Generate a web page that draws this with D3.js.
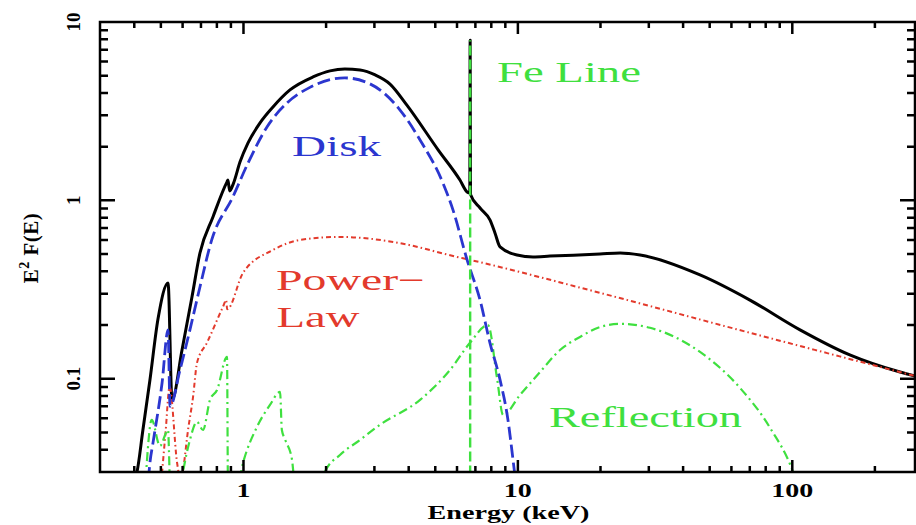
<!DOCTYPE html>
<html>
<head>
<meta charset="utf-8">
<script src="https://cdn.jsdelivr.net/npm/d3@7"></script>
<style>
  body { margin: 0; background: #fff; }
  svg { display: block; }
  .frame { fill: none; stroke: #000; stroke-width: 2.5px; }
</style>
</head>
<body>
<svg id="chart" width="916" height="525"></svg>
<script>
// Spectral components of the model: energies in keV, fluxes as E^2 F(E)
const totalE = [0.40, 0.409, 0.43, 0.456, 0.488, 0.531, 0.549, 0.597, 0.649, 0.694, 0.774, 0.871, 0.878, 0.890, 0.92, 0.971, 1.039, 1.149, 1.281, 1.477, 1.792, 2.067, 2.34, 2.66, 3.02, 3.42, 3.94, 5.12, 6.15, 6.53, 6.68, 6.70, 6.72, 7.28, 7.91, 8.25, 8.61, 9.93, 11.35, 13.09, 19.92, 23.6, 27.9, 46.1, 70.1, 106.7, 162, 247, 280];
const totalF = [0.027, 0.030, 0.0516, 0.098, 0.216, 0.344, 0.076, 0.145, 0.287, 0.507, 0.807, 1.27, 1.30, 1.13, 1.25, 1.64, 2.10, 2.72, 3.34, 4.16, 4.92, 5.32, 5.45, 5.38, 5.05, 4.49, 3.42, 1.92, 1.30, 1.115, 1.10, 7.9, 1.08, 0.906, 0.777, 0.657, 0.548, 0.494, 0.482, 0.487, 0.50, 0.507, 0.494, 0.382, 0.276, 0.188, 0.136, 0.109, 0.1036];

const diskE = [0.45, 0.456, 0.468, 0.505, 0.531, 0.540, 0.587, 0.638, 0.694, 0.766, 0.916, 1.039, 1.218, 1.441, 1.747, 2.067, 2.34, 2.89, 3.72, 4.40, 5.33, 5.80, 6.53, 7.28, 7.91, 8.61, 9.2, 9.6, 9.8];
const diskF = [0.027, 0.0337, 0.0437, 0.0947, 0.188, 0.07, 0.112, 0.188, 0.327, 0.6, 1.05, 1.62, 2.58, 3.52, 4.3, 4.75, 4.86, 4.5, 3.21, 2.18, 1.252, 0.884, 0.464, 0.276, 0.159, 0.0985, 0.0588, 0.0351, 0.027];

const powerE = [0.50, 0.52, 0.538, 0.573, 0.59, 0.602, 0.628, 0.655, 0.677, 0.736, 0.842, 0.865, 0.872, 0.996, 1.281, 1.607, 2.247, 3.51, 6.0, 6.69, 19.92, 70, 280];
const powerF = [0.025, 0.05, 0.09, 0.0337, 0.027, 0.0308, 0.0516, 0.0791, 0.1226, 0.159, 0.253, 0.276, 0.245, 0.392, 0.527, 0.60, 0.624, 0.585, 0.482, 0.464, 0.303, 0.181, 0.1036];

const reflE = [0.44, 0.463, 0.496, 0.531, 0.541, 0.59, 0.602, 0.638, 0.677, 0.712, 0.755, 0.801, 0.871, 0.878, 0.95, 0.996, 1.12, 1.249, 1.359, 1.38, 1.42, 1.503, 1.53, 1.9, 1.98, 2.247, 2.66, 3.14, 4.40, 5.66, 6.69, 7.78, 8.4, 8.83, 10.18, 12.04, 14.24, 16.84, 19.92, 23.6, 30.3, 46.1, 64.5, 83, 100.6, 103];
const reflF = [0.027, 0.0588, 0.042, 0.0516, 0.025, 0.025, 0.030, 0.0454, 0.0573, 0.0516, 0.0761, 0.0865, 0.1325, 0.025, 0.025, 0.0337, 0.0537, 0.0713, 0.0843, 0.0516, 0.0454, 0.0351, 0.028, 0.025, 0.030, 0.0374, 0.0454, 0.0551, 0.0761, 0.112, 0.159, 0.200, 0.10, 0.0627, 0.0811, 0.109, 0.145, 0.1715, 0.195, 0.203, 0.193, 0.1413, 0.0888, 0.053, 0.030, 0.027];

// Iron line: narrow Gaussian at this energy, peaking at this flux
const feLineE = [6.70, 6.70];
const feLineF = [0.02, 7.9];

// Axis ticks
const xMajorTicks = [1, 10, 100];
const xMinorTicks = [0.4, 0.5, 0.6, 0.7, 0.8, 0.9, 2, 3, 4, 5, 6, 7, 8, 9, 20, 30, 40, 50, 60, 70, 80, 90, 200];
const xTickLabels = ["1", "10", "100"];
const yMajorTicks = [0.1, 1, 10];
const yMinorTicks = [0.04, 0.05, 0.06, 0.07, 0.08, 0.09, 0.2, 0.3, 0.4, 0.5, 0.6, 0.7, 0.8, 0.9, 2, 3, 4, 5, 6, 7, 8, 9];
const yTickLabels = ["0.1", "1", "10"];

const svg = d3.select("#chart");
const plotLeft = 100, plotRight = 915, plotTop = 22, plotBottom = 472;

const x = d3.scaleLog().domain([0.3, 280]).range([plotLeft, plotRight]);
const y = d3.scaleLog().domain([0.03, 10]).range([plotBottom, plotTop]);

svg.append("defs").append("clipPath").attr("id", "plot-area")
  .append("rect").attr("x", plotLeft).attr("y", plotTop)
  .attr("width", plotRight - plotLeft).attr("height", plotBottom - plotTop);

const plot = svg.append("g").attr("clip-path", "url(#plot-area)");

const line = d3.line()
  .x(d => x(d[0]))
  .y(d => y(d[1]))
  .curve(d3.curveMonotoneX);

const zip = (a, b) => a.map((v, i) => [v, b[i]]);

function drawSeries(E, F, color, width, dash) {
  plot.append("path")
    .datum(zip(E, F))
    .attr("d", line)
    .attr("fill", "none")
    .attr("stroke", color)
    .attr("stroke-width", width)
    .attr("stroke-linejoin", "round")
    .attr("stroke-dasharray", dash);
}

drawSeries(totalE, totalF, "#000000", 3, null);
drawSeries(powerE, powerF, "#e33a2c", 2, "5,3,1.5,3");
drawSeries(reflE, reflF, "#3fe03f", 2.2, "9,4,2,4");
drawSeries(diskE, diskF, "#2b36cf", 2.8, "13,5");

plot.append("path")
  .datum(zip(feLineE, feLineF))
  .attr("d", d3.line().x(d => x(d[0])).y(d => y(d[1])))
  .attr("stroke", "#3fe03f")
  .attr("stroke-width", 2.4)
  .attr("stroke-dasharray", "10,4");

// Frame outline and inward-pointing ticks, traced as a single path
const frame = d3.path();
frame.rect(plotLeft, plotTop, plotRight - plotLeft, plotBottom - plotTop);
function addXTicks(values, len) {
  values.forEach(v => {
    const px = x(v);
    frame.moveTo(px, plotBottom); frame.lineTo(px, plotBottom - len);
    frame.moveTo(px, plotTop); frame.lineTo(px, plotTop + len);
  });
}
function addYTicks(values, len) {
  values.forEach(v => {
    const py = y(v);
    frame.moveTo(plotLeft, py); frame.lineTo(plotLeft + len, py);
    frame.moveTo(plotRight, py); frame.lineTo(plotRight - len, py);
  });
}
addXTicks(xMinorTicks, 6);
addXTicks(xMajorTicks, 12);
addYTicks(yMinorTicks, 8);
addYTicks(yMajorTicks, 15);
svg.append("path").attr("class", "frame").attr("d", frame.toString());

const tickFont = "'Liberation Serif', 'DejaVu Serif', serif";

// Energy tick labels
svg.append("g").selectAll("text")
  .data(xMajorTicks)
  .join("text")
  .attr("x", d => x(d))
  .attr("y", 497)
  .attr("text-anchor", "middle")
  .attr("font-family", tickFont)
  .attr("font-weight", "bold")
  .attr("font-size", 19)
  .attr("textLength", (d, i) => xTickLabels[i].length * 14)
  .attr("lengthAdjust", "spacingAndGlyphs")
  .text((d, i) => xTickLabels[i]);

// Flux tick labels, written upward along the axis
svg.append("g").selectAll("text")
  .data(yMajorTicks)
  .join("text")
  .attr("transform", d => `translate(80,${y(d)}) rotate(-90)`)
  .attr("text-anchor", "middle")
  .attr("font-family", tickFont)
  .attr("font-weight", "bold")
  .attr("font-size", 19)
  .text((d, i) => yTickLabels[i]);

svg.append("text")
  .attr("x", (plotLeft + plotRight) / 2 + 1)
  .attr("y", 519)
  .attr("text-anchor", "middle")
  .attr("font-family", tickFont)
  .attr("font-weight", "bold")
  .attr("font-size", 18)
  .attr("textLength", 162)
  .attr("lengthAdjust", "spacingAndGlyphs")
  .text("Energy (keV)");

const yTitle = svg.append("text")
  .attr("transform", "translate(38,248) rotate(-90)")
  .attr("text-anchor", "middle")
  .attr("font-family", tickFont)
  .attr("font-weight", "bold")
  .attr("font-size", 21)
  .attr("letter-spacing", 0.5);
yTitle.append("tspan").text("E");
yTitle.append("tspan").attr("font-size", 14).attr("dy", -9).text("2");
yTitle.append("tspan").attr("dy", 9).text(" F(E)");

// Component labels, anchored in data coordinates
const labelFont = "'Liberation Serif', 'Times New Roman', serif";
function label(txt, E, F, color, len) {
  svg.append("text")
    .attr("x", x(E)).attr("y", y(F))
    .attr("font-family", labelFont)
    .attr("font-size", 30)
    .attr("fill", color)
    .attr("textLength", len)
    .attr("lengthAdjust", "spacingAndGlyphs")
    .text(txt);
}
label("Disk", 1.503, 1.774, "#2b36cf", 89);
label("Power\u2212", 1.314, 0.315, "#e33a2c", 149);
label("Law", 1.32, 0.195, "#e33a2c", 83);
label("Fe Line", 8.39, 4.61, "#3fe03f", 144);
label("Reflection", 12.98, 0.0537, "#3fe03f", 193);
</script>
</body>
</html>
